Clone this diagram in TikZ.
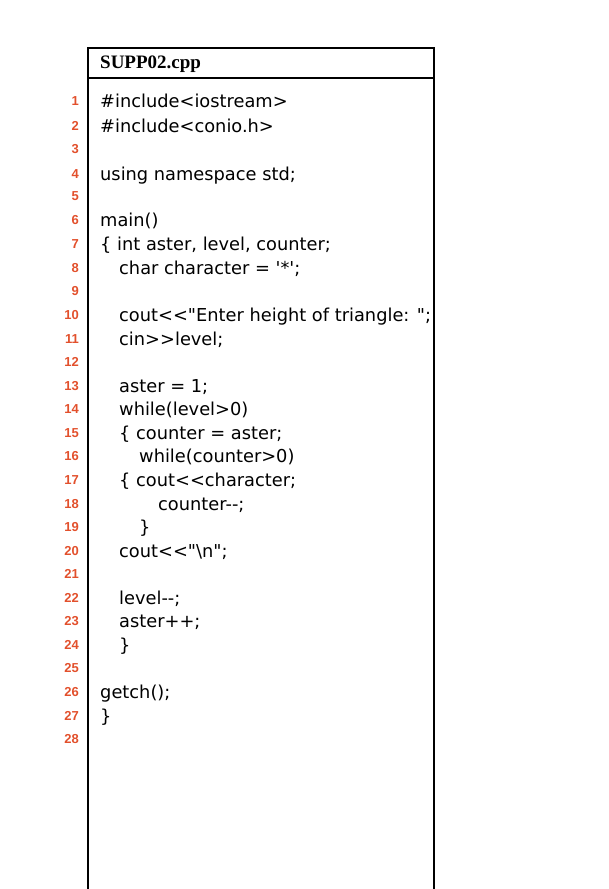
\documentclass[tikz,border=0pt]{standalone}
\usepackage{fontspec}
\setmainfont{DejaVu Sans}[Ligatures=TeXOff]
\newfontfamily\hdr{Liberation Serif}
\newfontfamily\num{Liberation Sans}
\definecolor{numred}{HTML}{E2502C}
\begin{document}
\begin{tikzpicture}[x=1pt,y=-1pt,
  code/.style={anchor=west,inner sep=0pt,font=\fontsize{17.8}{21}\selectfont},
  lnum/.style={anchor=east,inner sep=0pt,text=numred,font=\num\bfseries\fontsize{13}{15}\selectfont}]
\useasboundingbox (0,0) rectangle (609,889);
\draw[line width=1.6pt] (88,891) -- (88,48) -- (434,48) -- (434,891);
\draw[line width=1.6pt] (88,78) -- (434,78);
\node[anchor=west,inner sep=0pt,font=\hdr\bfseries\fontsize{19}{22}\selectfont] (h) at (100,64) {SUPP02.cpp};
\foreach \n/\y/\x/\t in {
 1/103/100/{\#include<iostream>},
 2/128/100/{\#include<conio.h>},
 3/151/100/{},
 4/176/100/{using namespace std;},
 5/198/100/{},
 6/222/100/{main()},
 7/246/100/{\{ int aster, level, counter;},
 8/270/119/{char character = '*';},
 9/293/100/{},
 10/317/119/{cout<<"Enter height of triangle: ";},
 11/341/119/{cin>>level;},
 12/364/100/{},
 13/388/119/{aster = 1;},
 14/411/119/{while(level>0)},
 15/435/119/{\{ counter = aster;},
 16/458/139/{while(counter>0)},
 17/482/119/{\{ cout<<character;},
 18/506/158/{counter--;},
 19/529/139/{\}},
 20/553/119/{cout<<"\textbackslash n";},
 21/576/100/{},
 22/600/119/{level--;},
 23/623/119/{aster++;},
 24/647/119/{\}},
 25/670/100/{},
 26/694/100/{getch();},
 27/718/100/{\}},
 28/741/100/{}}{
 \node[lnum] (n\n) at (79,\y-2) {\n};
 \node[code] (c\n) at (\x,\y) {\strut\t};
}
\end{tikzpicture}
\end{document}
